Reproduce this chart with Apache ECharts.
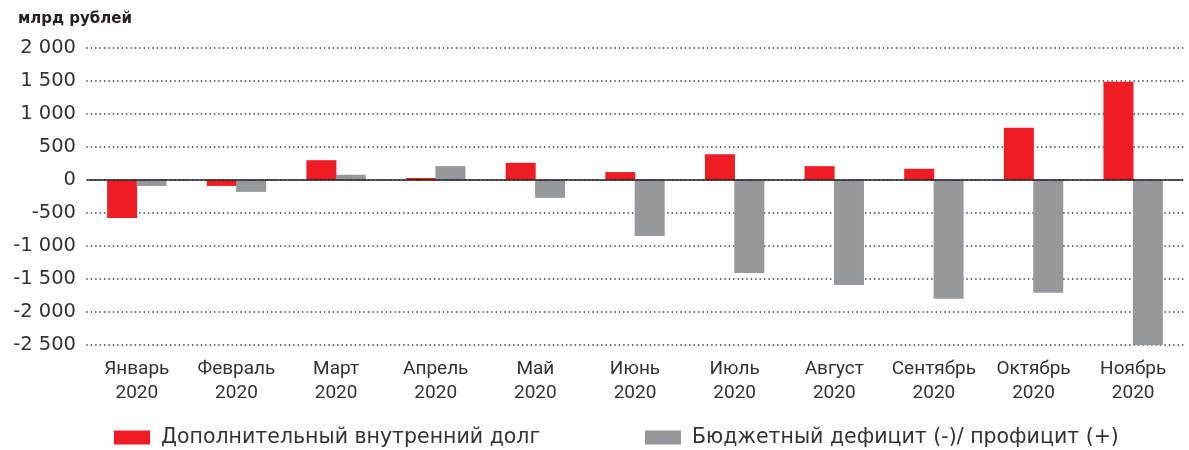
<!DOCTYPE html>
<html>
<head>
<meta charset="utf-8">
<script src="https://cdn.jsdelivr.net/npm/echarts@6/dist/echarts.min.js"></script>
<style>
  html, body { margin: 0; padding: 0; background: #fff; }
  #chart { width: 1189px; height: 450px; }
</style>
</head>
<body>
<div id="chart"></div>
<script>
// данные (млрд рублей)
var months = ['Январь\n2020', 'Февраль\n2020', 'Март\n2020', 'Апрель\n2020', 'Май\n2020', 'Июнь\n2020',
              'Июль\n2020', 'Август\n2020', 'Сентябрь\n2020', 'Октябрь\n2020', 'Ноябрь\n2020'];
var debtValues = [-575, -90, 300, 30, 260, 120, 390, 210, 170, 790, 1490];
var budgetValues = [-90, -180, 80, 210, -270, -850, -1410, -1590, -1800, -1710, -2500];
var seriesNames = ['Дополнительный внутренний долг', 'Бюджетный дефицит (-)/ профицит (+)'];

var RED = '#ee1c25';
var GRAY = '#97989c';
var INK = '#231f20';

function fmt(v) {
  var s = String(Math.abs(v));
  if (s.length > 3) s = s.slice(0, s.length - 3) + ' ' + s.slice(-3);
  return (v < 0 ? '-' : '') + s;
}

var legendText = { fontFamily: 'DejaVu Sans', fontSize: 20.5, color: '#333', padding: [0, 0, 0, 6] };

var chart = echarts.init(document.getElementById('chart'));
chart.setOption({
  animation: false,
  title: {
    text: 'млрд рублей',
    left: 13,
    top: 7,
    textStyle: { fontFamily: 'DejaVu Sans', fontWeight: 'bold', fontSize: 15, color: INK }
  },
  legend: [
    {
      data: [seriesNames[0]],
      left: 114, top: 427, padding: 0,
      itemWidth: 36, itemHeight: 14, itemGap: 10,
      icon: 'rect',
      textStyle: legendText
    },
    {
      data: [seriesNames[1]],
      left: 645, top: 427, padding: 0,
      itemWidth: 36, itemHeight: 14, itemGap: 10,
      icon: 'rect',
      textStyle: legendText
    }
  ],
  grid: { left: 87, right: 6, top: 48, bottom: 105, containLabel: false },
  xAxis: {
    type: 'category',
    data: months,
    axisLine: { show: false, onZero: false },
    axisTick: { show: false },
    axisLabel: {
      margin: 12, interval: 0,
      fontFamily: 'Roboto', fontSize: 19, lineHeight: 24, color: '#333'
    }
  },
  yAxis: {
    type: 'value',
    min: -2500, max: 2000, interval: 500,
    axisLine: { show: false },
    axisTick: { show: false },
    axisLabel: {
      margin: 11,
      fontFamily: 'DejaVu Sans', fontSize: 19.5, color: '#333',
      formatter: fmt
    },
    splitLine: {
      lineStyle: { color: INK, width: 1.6, type: [0.1, 4.3], cap: 'round' }
    }
  },
  series: [
    {
      name: seriesNames[0],
      type: 'bar',
      data: debtValues,
      barWidth: 30,
      barGap: '-2%',
      itemStyle: { color: RED },
      markLine: {
        silent: true,
        symbol: 'none',
        label: { show: false },
        lineStyle: { color: INK, width: 1.5, type: 'solid' },
        data: [{ yAxis: 0 }]
      }
    },
    {
      name: seriesNames[1],
      type: 'bar',
      data: budgetValues,
      barWidth: 30,
      itemStyle: { color: GRAY }
    }
  ]
});
</script>
</body>
</html>
